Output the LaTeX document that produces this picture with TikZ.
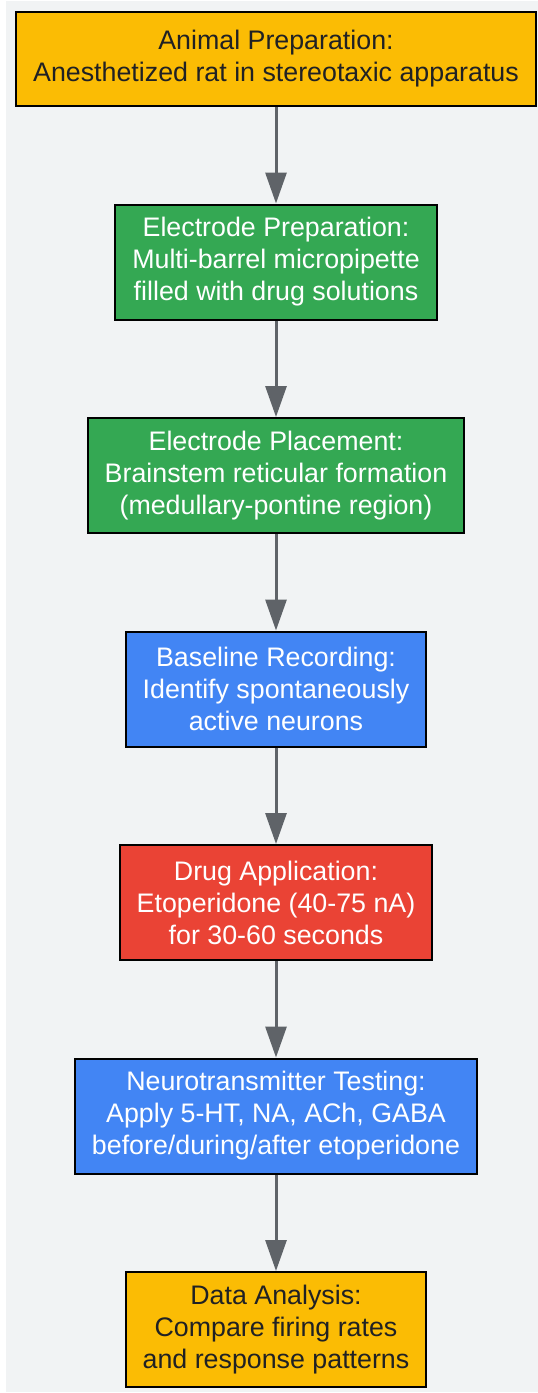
\documentclass[tikz,border=0pt]{standalone}
\usepackage{fontspec}
\setmainfont{Liberation Sans}
\usetikzlibrary{arrows.meta,positioning}
\definecolor{bggray}{HTML}{F1F3F4}
\definecolor{gyellow}{HTML}{FBBC04}
\definecolor{ggreen}{HTML}{34A853}
\definecolor{gblue}{HTML}{4285F4}
\definecolor{gred}{HTML}{EA4335}
\definecolor{darktext}{HTML}{202124}
\definecolor{arrowgray}{HTML}{5F6368}

\begin{document}
\begin{tikzpicture}[x=1pt,y=-1pt,
		stepbox/.style={draw=black,line width=2pt,align=center,
			font=\fontsize{26.8}{32}\selectfont,inner xsep=17pt,inner ysep=0pt,
			minimum height=115pt},
		yellowbox/.style={stepbox,fill=gyellow,text=darktext},
		greenbox/.style={stepbox,fill=ggreen,text=white},
		bluebox/.style={stepbox,fill=gblue,text=white},
		redbox/.style={stepbox,fill=gred,text=white},
		flow/.style={-{Triangle[length=31pt,width=21pt]},line width=3pt,draw=arrowgray},
		node distance=96.5pt
		]
		
		% --- background panel
		\useasboundingbox (0,0) rectangle (538,1393);
		\fill[bggray] (6,1) rectangle (538,1392);
		
		% --- steps
		\node[yellowbox,minimum height=94pt] (prep) at (276,59)
		{Animal Preparation:\\Anesthetized rat in stereotaxic apparatus};
		\node[greenbox,below=of prep] (electrode)
		{Electrode Preparation:\\Multi-barrel micropipette\\filled with drug solutions};
		\node[greenbox,below=of electrode] (place)
		{Electrode Placement:\\Brainstem reticular formation\\(medullary-pontine region)};
		\node[bluebox,below=of place] (baseline)
		{Baseline Recording:\\Identify spontaneously\\active neurons};
		\node[redbox,below=of baseline] (drug)
		{Drug Application:\\Etoperidone (40-75 nA)\\for 30-60 seconds};
		\node[bluebox,below=of drug] (ntest)
		{Neurotransmitter Testing:\\Apply 5-HT, NA, ACh, GABA\\before/during/after etoperidone};
		\node[yellowbox,below=of ntest] (analysis)
		{Data Analysis:\\Compare firing rates\\and response patterns};
		
		% --- arrows
		\draw[flow] (prep) -- (electrode);
		\draw[flow] (electrode) -- (place);
		\draw[flow] (place) -- (baseline);
		\draw[flow] (baseline) -- (drug);
		\draw[flow] (drug) -- (ntest);
		\draw[flow] (ntest) -- (analysis);
		
	\end{tikzpicture}
\end{document}
